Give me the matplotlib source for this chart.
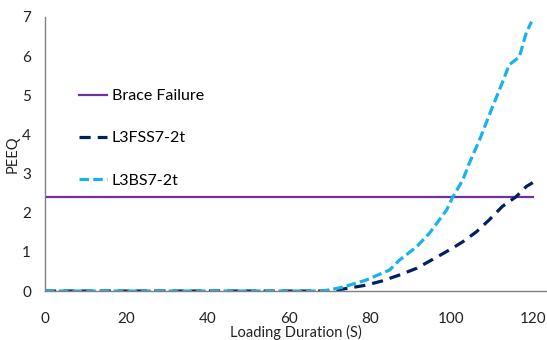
import numpy as np
import matplotlib.pyplot as plt

plt.rcParams['font.family'] = ['Lato', 'DejaVu Sans']

# loading time (s) and PEEQ for each model
t_bs = [0, 10, 20, 30, 40, 50, 60, 68, 70, 73.3, 79, 84.8, 87.2, 91.4, 94.6, 98.8,
        100.3, 102.8, 104.4, 106.9, 109.8, 112.5, 114.2, 116.7, 118.4, 119.7]
peeq_bs = [0, 0, 0, 0, 0, 0, 0, 0, 0.03, 0.10, 0.28, 0.54, 0.79, 1.13, 1.48, 2.07,
           2.40, 2.84, 3.27, 3.86, 4.63, 5.32, 5.78, 5.98, 6.60, 6.88]

t_fss = [0, 10, 20, 30, 40, 50, 60, 68, 70, 73.3, 79, 83, 87.2, 91.4, 95.4, 99.5,
         102.8, 106.1, 109.3, 112.5, 115.9, 118.4, 120]
peeq_fss = [0, 0, 0, 0, 0, 0, 0, 0, 0.01, 0.05, 0.15, 0.26, 0.41, 0.58, 0.81, 1.05,
            1.26, 1.51, 1.82, 2.16, 2.41, 2.67, 2.77]

brace_failure = 2.4

fig = plt.figure(figsize=(5.47, 3.40), dpi=100)
ax = fig.add_axes([0.0823, 0.144, 0.9177, 0.806])

ax.axhline(brace_failure, xmin=0, xmax=120 / 123.5, color='#7030A0', lw=1.6,
           label='Brace Failure')
ax.plot(t_fss, peeq_fss, color='#002060', lw=2.3, ls=(0, (3.5, 2.2)), label='L3FSS7-2t')
ax.plot(t_bs, peeq_bs, color='#1AB2EE', lw=2.3, ls=(0, (3, 1.3)), label='L3BS7-2t')

ax.set_xlim(0, 123.5)
ax.set_ylim(0, 7)
ax.set_xticks(np.arange(0, 121, 20))
ax.set_yticks(np.arange(0, 8, 1))
ax.tick_params(length=0, labelsize=11, colors='#222222')
ax.tick_params(axis='x', pad=15)
ax.tick_params(axis='y', pad=10)

for side in ['top', 'right']:
    ax.spines[side].set_visible(False)
for side in ['left', 'bottom']:
    ax.spines[side].set_color('#808080')
    ax.spines[side].set_linewidth(1.0)

ax.set_xlabel('Loading Duration (S)', fontsize=10.5, labelpad=-1, color='#222222')
ax.set_ylabel('PEEQ', fontsize=10.5, color='#222222')
ax.yaxis.set_label_coords(-0.051, 0.5)

ax.legend(loc='upper left', bbox_to_anchor=(0.055, 0.76), frameon=False, fontsize=11.5,
          handlelength=1.75, handletextpad=0.3, labelspacing=1.75, borderaxespad=0)

fig.savefig('out.png', dpi=100)
